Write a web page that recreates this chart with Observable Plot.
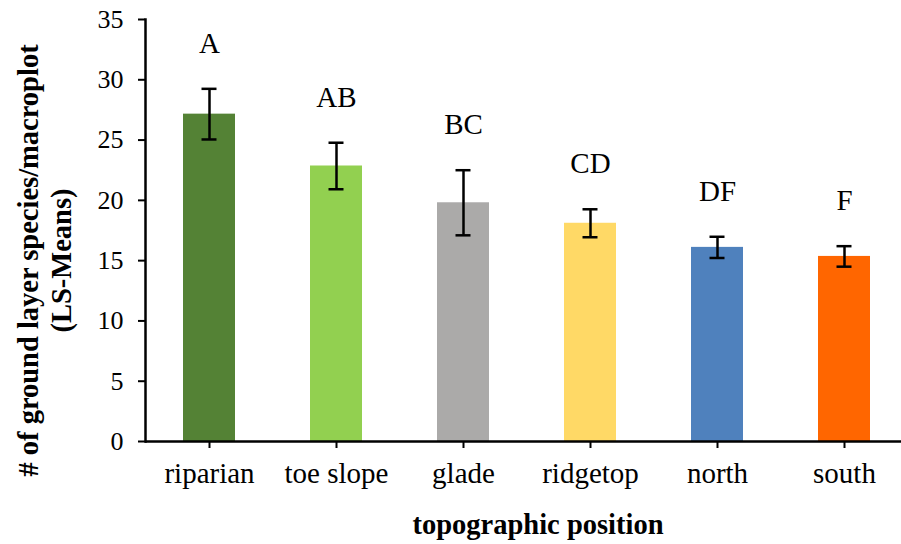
<!DOCTYPE html>
<html>
<head>
<meta charset="utf-8">
<script src="https://cdn.jsdelivr.net/npm/d3@7"></script>
<script src="https://cdn.jsdelivr.net/npm/@observablehq/plot@0.6"></script>
<style>
  body { margin: 0; background: #fff; }
  #chart svg { font-family: "Liberation Serif", "Times New Roman", serif; color: #000; }
</style>
</head>
<body>
<div id="chart"></div>
<script>
// Ground-layer species richness per macroplot by topographic position (LS-means ± SE)
const positions = ["riparian", "toe slope", "glade", "ridgetop", "north", "south"];
const lsMeans = [27.15, 22.85, 19.8, 18.1, 16.1, 15.35];
const stdErrors = [2.1, 1.93, 2.7, 1.16, 0.88, 0.85];
const groupLetters = ["A", "AB", "BC", "CD", "DF", "F"];
const barColors = ["#548235", "#92D050", "#ABAAA9", "#FFD966", "#4F81BD", "#FF6600"];
const yTicks = [0, 5, 10, 15, 20, 25, 30, 35];

const rows = positions.map((p, i) => ({
  position: p,
  mean: lsMeans[i],
  lo: lsMeans[i] - stdErrors[i],
  hi: lsMeans[i] + stdErrors[i],
  letter: groupLetters[i]
}));

const chart = Plot.plot({
  width: 901,
  height: 544,
  marginLeft: 145,
  marginRight: -7,
  marginTop: 19,
  marginBottom: 103,
  style: { fontFamily: "'Liberation Serif', 'Times New Roman', serif", color: "#000", background: "#fff" },
  x: { domain: positions, paddingInner: 0.59, paddingOuter: 0.295 },
  y: { domain: [0, 35] },
  color: { domain: positions, range: barColors },
  marks: [
    Plot.barY(rows, { x: "position", y: "mean", fill: "position" }),
    Plot.ruleX(rows, { x: "position", y1: "lo", y2: "hi", stroke: "#000", strokeWidth: 2.5 }),
    Plot.tickY(rows, { x: "position", y: "lo", stroke: "#000", strokeWidth: 2.5, insetLeft: 18.5, insetRight: 18.5 }),
    Plot.tickY(rows, { x: "position", y: "hi", stroke: "#000", strokeWidth: 2.5, insetLeft: 18.5, insetRight: 18.5 }),
    Plot.text(rows, { x: "position", y: "hi", text: "letter", dy: -36, lineAnchor: "bottom", fontSize: 29, fill: "#000" }),
    Plot.axisY({ ticks: yTicks, tickSize: 7, tickPadding: 15, fontSize: 26, label: null, strokeWidth: 2 }),
    Plot.axisX({ tickSize: 7, tickPadding: 14, fontSize: 29, label: null, strokeWidth: 2 }),
    Plot.frame({ anchor: "left", stroke: "#000", strokeWidth: 2.5 }),
    Plot.ruleY([0], { stroke: "#000", strokeWidth: 2.5 }),
    Plot.text(["# of ground layer species/macroplot\n(LS-Means)"], {
      frameAnchor: "left", rotate: -90, dx: -102, dy: 30,
      textAnchor: "middle", lineAnchor: "middle", lineHeight: 1.17,
      fontSize: 28.5, fontWeight: "bold", fill: "#000"
    }),
    Plot.text(["topographic position"], {
      frameAnchor: "bottom", dx: 11, dy: 92,
      textAnchor: "middle", lineAnchor: "bottom", fontSize: 28.5, fontWeight: "bold", fill: "#000"
    })
  ]
});

document.getElementById("chart").appendChild(chart);
</script>
</body>
</html>
